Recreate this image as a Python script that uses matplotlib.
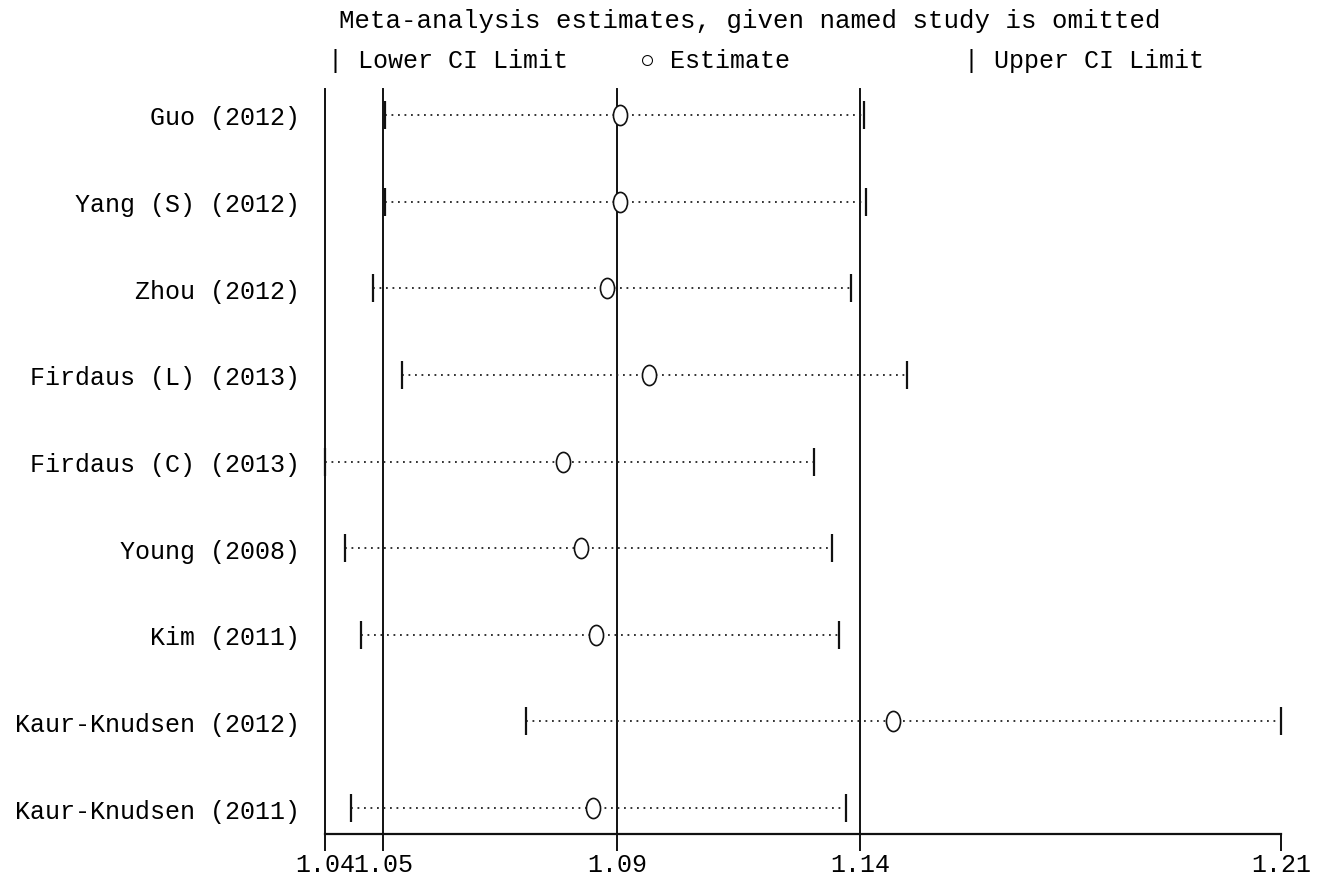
import matplotlib
matplotlib.use('Agg')
import matplotlib.pyplot as plt
import numpy as np
from matplotlib.path import Path
from matplotlib.transforms import Affine2D

plt.rcParams['font.family'] = ['Liberation Mono', 'DejaVu Sans Mono']

# studies (top to bottom) and leave-one-out estimates
studies = ['Guo (2012)', 'Yang (S) (2012)', 'Zhou (2012)', 'Firdaus (L) (2013)',
           'Firdaus (C) (2013)', 'Young (2008)', 'Kim (2011)',
           'Kaur-Knudsen (2012)', 'Kaur-Knudsen (2011)']
lower = [1.0507, 1.0507, 1.0485, 1.0537, 1.0400, 1.0436, 1.0464, 1.0757, 1.0446]
estimate = [1.0925, 1.0925, 1.0901, 1.0976, 1.0823, 1.0855, 1.0882, 1.1410, 1.0877]
upper = [1.1358, 1.1362, 1.1335, 1.1435, 1.1270, 1.1302, 1.1314, 1.2100, 1.1326]

# overall pooled estimate with CI
overall_lower = 1.0503
overall_est = 1.0919
overall_upper = 1.1351

xmin = min(lower)
xmax = max(upper)
tick_vals = [xmin, overall_lower, overall_est, overall_upper, xmax]
tick_labels = ['%.2f' % v for v in tick_vals]

fig = plt.figure(figsize=(13.3, 8.79), dpi=100)
ax = fig.add_axes([325/1330, 1 - 835/879, (1281 - 325)/1330, (835 - 90)/879])

y = np.arange(1, len(studies) + 1)

# vertical reference lines
for v in [xmin, overall_lower, overall_est, overall_upper]:
    ax.axvline(v, color='#111111', lw=1.4, zorder=1, clip_on=False)

# dotted CI lines
for yi, lo, hi in zip(y, lower, upper):
    ax.plot([lo, hi], [yi, yi], color='#222222', lw=1.3, ls=(0, (1, 2.6)), zorder=2)

# slightly tall ellipse marker like the original
ell = Path.unit_circle().transformed(Affine2D().scale(0.7, 1.0))
ax.plot(lower, y, ls='none', marker='|', ms=20, mew=1.6, color='#111111', zorder=3,
        clip_on=False)
ax.plot(upper, y, ls='none', marker='|', ms=20, mew=1.6, color='#111111', zorder=3,
        clip_on=False)
ax.plot(estimate, y, ls='none', marker=ell, ms=14.5, mfc='white', mec='#111111',
        mew=1.2, zorder=4)

ax.set_xlim(xmin, xmax)
ax.set_ylim(len(studies) + 0.3, 0.7)

ax.set_yticks(y)
ax.set_yticklabels(studies, fontsize=18)
ax.tick_params(axis='y', length=0, pad=18)

ax.set_xticks(tick_vals)
ax.set_xticklabels(tick_labels, fontsize=18)
ax.tick_params(axis='x', direction='out', length=12, width=1.4, pad=1,
               color='#111111')

for s in ['left', 'right', 'top']:
    ax.spines[s].set_visible(False)
ax.spines['bottom'].set_linewidth(1.6)
ax.spines['bottom'].set_color('#111111')

fig.text(750/1330, 1 - 21/879, 'Meta-analysis estimates, given named study is omitted',
         ha='center', va='center', fontsize=18.5)
fig.text(328/1330, 1 - 61/879, '| Lower CI Limit', ha='left', va='center', fontsize=18)
fig.text(640/1330, 1 - 61/879, '\u25cb Estimate', ha='left', va='center', fontsize=18)
fig.text(964/1330, 1 - 61/879, '| Upper CI Limit', ha='left', va='center', fontsize=18)

fig.savefig('out.png', dpi=100, facecolor='white')
